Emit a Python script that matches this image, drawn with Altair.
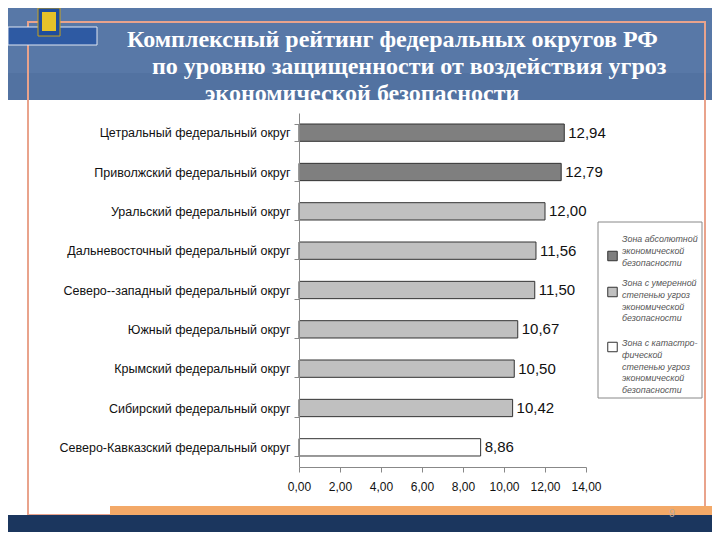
import altair as alt
import pandas as pd

# ---------------- data ----------------
districts = [
    "Цетральный федеральный округ",
    "Приволжский федеральный округ",
    "Уральский федеральный округ",
    "Дальневосточный федеральный округ",
    "Северо--западный федеральный округ",
    "Южный федеральный округ",
    "Крымский федеральный округ",
    "Сибирский федеральный округ",
    "Северо-Кавказский федеральный округ",
]
scores = [12.94, 12.79, 12.00, 11.56, 11.50, 10.67, 10.50, 10.42, 8.86]
zone_index = [0, 0, 1, 1, 1, 1, 1, 1, 2]
zone_names = [
    "Зона абсолютной|экономической|безопасности",
    "Зона с умеренной|степенью угроз|экономической|безопасности",
    "Зона с катастро-|фической|степенью угроз|экономической|безопасности",
]
zone_colors = ["#7f7f7f", "#c0c0c0", "#ffffff"]
x_ticks = [0, 2, 4, 6, 8, 10, 12, 14]
title_lines = [
    "Комплексный рейтинг федеральных округов РФ",
    "по уровню защищенности от воздействия угроз",
    "экономической безопасности",
]
page_number = "9"

df = pd.DataFrame({
    "district": districts,
    "score": scores,
    "zone": [zone_names[i] for i in zone_index],
})
one = pd.DataFrame({"k": [0]})

SANS = "Liberation Sans"
SERIF = "Liberation Serif"

zone_scale = alt.Scale(domain=zone_names, range=zone_colors)

def box(x1, x2, y1, y2, **kw):
    return alt.Chart(one).mark_rect(**kw).encode(
        x=alt.value(x1), x2=alt.value(x2), y=alt.value(y1), y2=alt.value(y2)
    )

def label(txt, x, y, **kw):
    return alt.Chart(pd.DataFrame({"t": [txt]})).mark_text(**kw).encode(
        x=alt.value(x), y=alt.value(y), text="t:N"
    )

# ---------------- decoration ----------------
header = box(-291, 413, -105, -13, color="#5878a7")
header_dark = box(-291, 413, -40, -13, color="#4f6e9d", opacity=0.6)
ribbon = box(-291, -202, -86, -68, color="#2e5aa3", stroke="#dfe6f2", strokeWidth=1)
shield = box(-261, -239, -105, -77, color="#1f4d9c", stroke="#c9a21a", strokeWidth=1)
eagle = box(-257, -243, -101, -82, color="#e6c229")

title_style = dict(font=SERIF, fontSize=24, fontWeight="bold", color="white", align="left", baseline="alphabetic")
t1 = label(title_lines[0], -172, -66, **title_style)
t2 = label(title_lines[1], -147, -39, **title_style)
t3 = label(title_lines[2], -94, -12, **title_style)

white = box(-291, 413, -13, 397, color="white")
border = box(-271, 406, -91, 402, fill="transparent", stroke="#e9a38c", strokeWidth=2)
navy = box(-291, 413, 402, 420, color="#1b365e")
orange = box(-189, 413, 393, 412, color="#f3a968")
pnum = label(page_number, 373, 401, font=SANS, fontSize=11, color="#b8a89a", align="center", baseline="middle")

# ---------------- legend (drawn as a box with swatches and multi-line labels) ----------------
legend_box = box(299, 403, 109, 285, fill="white", stroke="#888888", strokeWidth=1)
swatch_y = [143, 179, 234]
text_y = [126, 170, 230]
legend_layers = [legend_box]
for name, sy, ty in zip(zone_names, swatch_y, text_y):
    d = pd.DataFrame({"zone": [name]})
    legend_layers.append(
        alt.Chart(d).mark_square(size=90, stroke="#333333", strokeWidth=1, opacity=1).encode(
            x=alt.value(313.5), y=alt.value(sy),
            color=alt.Color("zone:N", scale=zone_scale, legend=None),
        )
    )
    legend_layers.append(
        alt.Chart(d).mark_text(
            align="left", baseline="middle", lineBreak="|", lineHeight=11.8,
            font=SANS, fontSize=8.9, fontStyle="italic", color="#555555",
        ).encode(x=alt.value(323), y=alt.value(ty), text="zone:N")
    )

# ---------------- chart ----------------
y_enc = alt.Y(
    "district:N",
    sort=districts,
    scale=alt.Scale(paddingInner=0.56, paddingOuter=0.28),
    axis=alt.Axis(
        title=None, tickBand="extent", tickSize=5, labelFontSize=12.5, labelFont=SANS,
        labelPadding=4, domainColor="#888", tickColor="#888", labelColor="#111",
        labelLimit=320, zindex=1,
    ),
)
x_enc = alt.X(
    "score:Q",
    scale=alt.Scale(domain=[0, 14], nice=False),
    axis=alt.Axis(
        title=None, values=x_ticks, grid=False, tickSize=5, labelOverlap=False, labelFlush=False,
        labelExpr="replace(format(datum.value, '.2f'), '.', ',')",
        labelFontSize=12, labelFont=SANS, labelColor="#111", labelPadding=9,
        domainColor="#888", tickColor="#888", zindex=1,
    ),
)

bars = alt.Chart(df).mark_bar(stroke="#333333", strokeWidth=1).encode(
    x=x_enc,
    y=y_enc,
    color=alt.Color("zone:N", scale=zone_scale, legend=None),
)

values = alt.Chart(df).transform_calculate(
    lbl="replace(format(datum.score, '.2f'), '.', ',')"
).mark_text(align="left", dx=4, font=SANS, fontSize=15, color="#111").encode(
    x="score:Q", y=alt.Y("district:N", sort=districts), text="lbl:N"
)

chart = alt.layer(
    header, header_dark, t1, t2, t3, white, border, orange, navy, pnum,
    ribbon, shield, eagle,
    bars, values, *legend_layers,
).properties(
    width=287, height=354,
    autosize=alt.AutoSizeParams(type="none"),
    padding={"left": 291, "top": 105, "right": 126, "bottom": 65},
).configure_view(stroke=None)

chart.save("out.html", embed_options={"renderer": "svg", "actions": False})
